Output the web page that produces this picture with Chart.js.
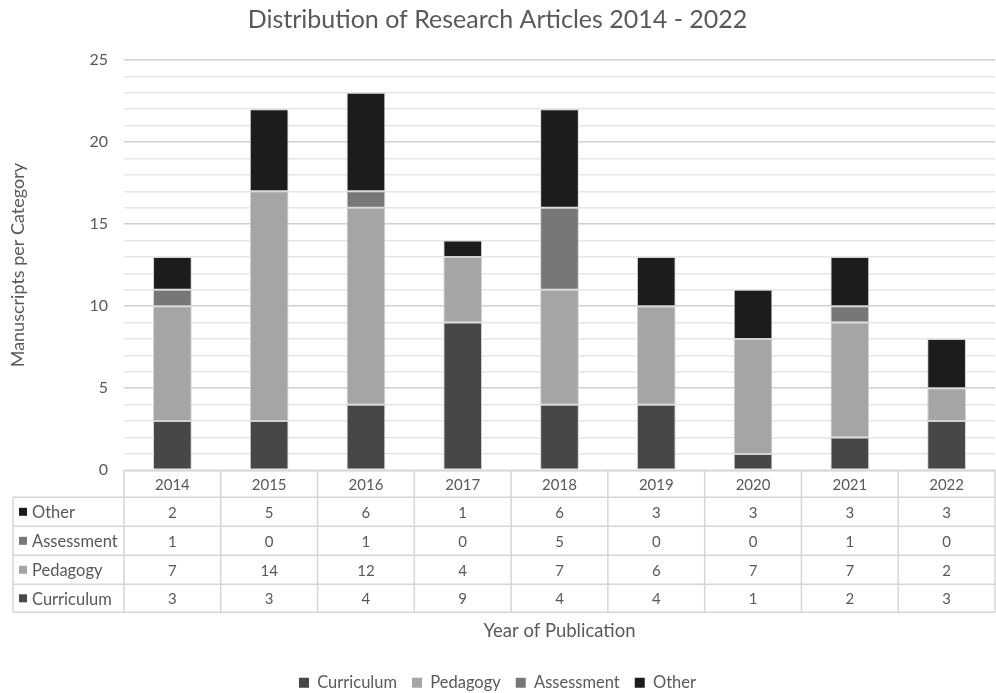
<!DOCTYPE html>
<html>
<head>
<meta charset="utf-8">
<script src="https://cdn.jsdelivr.net/npm/chart.js@4/dist/chart.umd.min.js"></script>
<style>
  html, body { margin: 0; padding: 0; background: #fff; }
  #wrap { width: 996px; height: 693px; position: relative; }
</style>
</head>
<body>
<div id="wrap"><canvas id="chart"></canvas></div>
<script>
// Manuscripts per category, by year of publication
const years = ['2014', '2015', '2016', '2017', '2018', '2019', '2020', '2021', '2022'];
const curriculum = [3, 3, 4, 9, 4, 4, 1, 2, 3];
const pedagogy   = [7, 14, 12, 4, 7, 6, 7, 7, 2];
const assessment = [1, 0, 1, 0, 5, 0, 0, 1, 0];
const other      = [2, 5, 6, 1, 6, 3, 3, 3, 3];
const seriesNames = ['Curriculum', 'Pedagogy', 'Assessment', 'Other'];
const yMax = 25;

const FONT = 'Lato';
const TEXT = '#595959';
const colors = ['#474747', '#a5a5a5', '#777777', '#1c1c1c'];
const values = [curriculum, pedagogy, assessment, other];

// Data table drawn underneath the plot, aligned to the category scale
const dataTable = {
  id: 'dataTable',
  afterDraw(chart) {
    const { ctx, scales: { x } } = chart;
    const n = years.length;
    const colW = (x.right - x.left) / n;
    const top = chart.chartArea.bottom;
    const rowLines = [top, top + 27, top + 56, top + 85, top + 114, top + 142];
    const tableLeft = 13;
    ctx.save();
    ctx.strokeStyle = '#d6d6d6';
    ctx.lineWidth = 1.5;
    ctx.beginPath();
    // horizontal rules
    ctx.moveTo(x.left, rowLines[0]); ctx.lineTo(x.right, rowLines[0]);
    for (let r = 1; r < rowLines.length; r++) {
      ctx.moveTo(tableLeft, rowLines[r]); ctx.lineTo(x.right, rowLines[r]);
    }
    // vertical rules
    ctx.moveTo(tableLeft, rowLines[1]); ctx.lineTo(tableLeft, rowLines[5]);
    for (let i = 0; i <= n; i++) {
      const px = x.left + i * colW;
      ctx.moveTo(px, rowLines[0]); ctx.lineTo(px, rowLines[5]);
    }
    ctx.stroke();

    ctx.fillStyle = TEXT;
    ctx.textBaseline = 'middle';
    ctx.textAlign = 'center';
    ctx.font = '15px ' + FONT;
    // header row: years
    years.forEach((yr, i) => {
      ctx.fillText(yr, x.getPixelForValue(i), (rowLines[0] + rowLines[1]) / 2 + 1);
    });
    // series rows, top row is the last series
    for (let r = 0; r < 4; r++) {
      const s = 3 - r;
      const cy = (rowLines[r + 1] + rowLines[r + 2]) / 2 + 1;
      ctx.font = '15px ' + FONT;
      ctx.textAlign = 'center';
      ctx.fillStyle = TEXT;
      values[s].forEach((v, i) => ctx.fillText(String(v), x.getPixelForValue(i), cy));
      ctx.fillStyle = colors[s];
      ctx.fillRect(19, cy - 5, 8, 8);
      ctx.font = '16.5px ' + FONT;
      ctx.fillStyle = TEXT;
      ctx.textAlign = 'left';
      ctx.fillText(seriesNames[s], 32, cy);
    }
    ctx.restore();
  }
};

new Chart(document.getElementById('chart'), {
  type: 'bar',
  data: {
    labels: years,
    datasets: seriesNames.map((name, i) => ({
      label: name,
      data: values[i],
      backgroundColor: colors[i],
      borderColor: '#d2d2d2',
      borderWidth: 1,
      borderSkipped: false,
      barPercentage: 0.4,
      categoryPercentage: 1.0
    }))
  },
  options: {
    responsive: true,
    maintainAspectRatio: false,
    animation: false,
    events: [],
    layout: { padding: { left: 0, right: 1, top: 0, bottom: -8 } },
    plugins: {
      title: {
        display: true,
        text: 'Distribution of Research Articles 2014 - 2022',
        color: TEXT,
        font: { family: FONT, size: 25, weight: 'normal' },
        padding: { top: 5, bottom: 25 }
      },
      legend: {
        position: 'bottom',
        labels: {
          color: TEXT,
          font: { family: FONT, size: 16.5 },
          boxWidth: 10,
          boxHeight: 10,
          padding: 15,
          generateLabels(chart) {
            return Chart.defaults.plugins.legend.labels.generateLabels(chart).map(l => {
              l.lineWidth = 0;
              l.strokeStyle = l.fillStyle;
              return l;
            });
          }
        }
      },
      tooltip: { enabled: false }
    },
    scales: {
      x: {
        stacked: true,
        grid: { display: false },
        border: { display: false },
        ticks: { display: false },
        title: {
          display: true,
          text: 'Year of Publication',
          color: TEXT,
          font: { family: FONT, size: 18.5 },
          padding: { top: 0, bottom: 17 }
        },
        afterFit(scale) { scale.height = 189.2; }
      },
      y: {
        stacked: true,
        min: 0,
        max: yMax,
        ticks: {
          stepSize: 1,
          autoSkip: false,
          color: TEXT,
          font: { family: FONT, size: 16 },
          padding: 16,
          callback: v => (v % 5 === 0 ? String(v) : '')
        },
        grid: {
          drawTicks: false,
          color: ctx => (ctx.tick && ctx.tick.value % 5 === 0 ? '#d0d0d0' : '#e6e6e6'),
          lineWidth: 1.5
        },
        border: { display: false },
        title: {
          display: true,
          text: 'Manuscripts per Category',
          color: TEXT,
          font: { family: FONT, size: 18 },
          padding: { top: 7, bottom: 0 }
        },
        afterFit(scale) { scale.width = 124; }
      }
    }
  },
  plugins: [dataTable]
});
</script>
</body>
</html>
